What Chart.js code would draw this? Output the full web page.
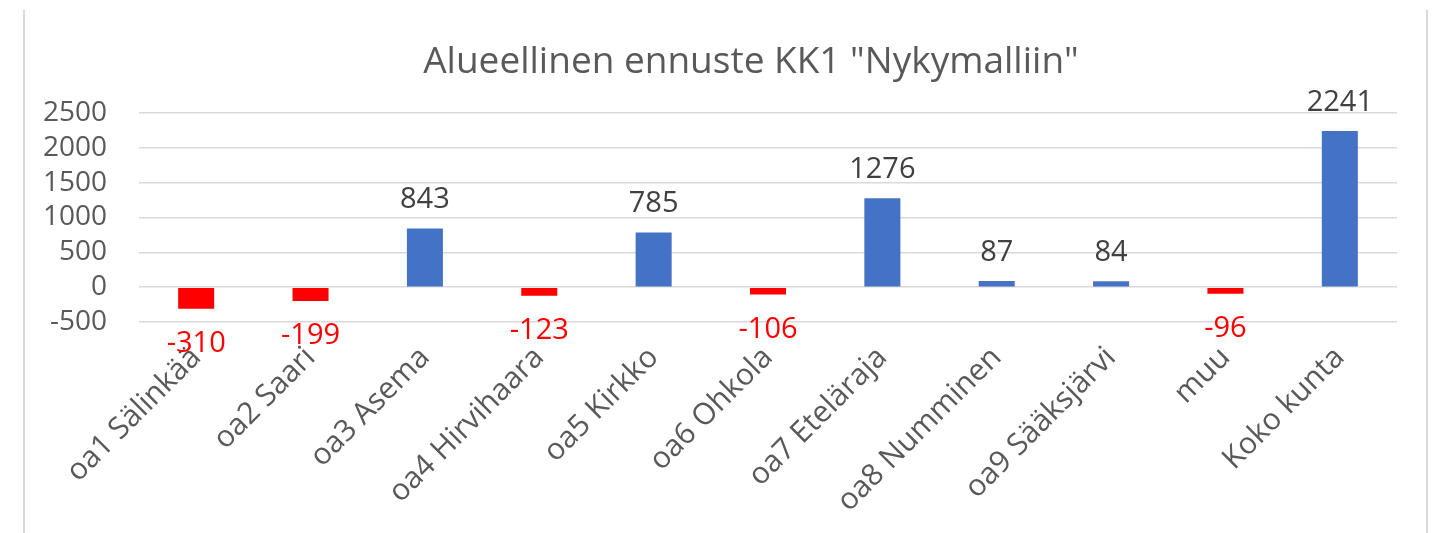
<!DOCTYPE html>
<html><head><meta charset="utf-8">
<script src="https://cdn.jsdelivr.net/npm/chart.js@4"></script>
<style>html,body{margin:0;padding:0;background:#fff;}#wrap{width:1438px;height:533px;}</style>
</head><body><div id="wrap"><canvas id="c" width="1438" height="533"></canvas></div>
<script>
const categories = ['oa1 Sälinkää','oa2 Saari','oa3 Asema','oa4 Hirvihaara','oa5 Kirkko','oa6 Ohkola','oa7 Eteläraja','oa8 Numminen','oa9 Sääksjärvi','muu','Koko kunta'];
const values = [-310, -199, 843, -123, 785, -106, 1276, 87, 84, -96, 2241];
const yTicks = [-500, 0, 500, 1000, 1500, 2000, 2500];
const titleText = 'Alueellinen ennuste KK1 "Nykymalliin"';

const POS = '#4472C4', NEG = '#FF0000';
const FONT = "'Open Sans', 'Noto Sans', sans-serif";

const framePlugin = {
  id: 'frame',
  beforeDraw(chart) {
    const ctx = chart.ctx;
    ctx.save();
    ctx.fillStyle = '#fff';
    ctx.fillRect(0, 0, chart.width, chart.height);
    ctx.strokeStyle = '#D9D9D9';
    ctx.lineWidth = 2;
    ctx.beginPath();
    ctx.moveTo(24, 10); ctx.lineTo(24, chart.height);
    ctx.moveTo(1427, 10); ctx.lineTo(1427, chart.height);
    ctx.stroke();
    ctx.restore();
  }
};

// shift the title box so that it is centred where the reference centres it
const titleShiftPlugin = {
  id: 'titleShift',
  afterLayout(chart) {
    if (chart.titleBlock) {
      chart.titleBlock.left = 105;
      chart.titleBlock.right = 1397;
    }
  }
};

const labelPlugin = {
  id: 'valueLabels',
  afterDatasetsDraw(chart) {
    const ctx = chart.ctx;
    const meta = chart.getDatasetMeta(0);
    ctx.save();
    ctx.font = '29px ' + FONT;
    ctx.textAlign = 'center';
    ctx.textBaseline = 'alphabetic';
    meta.data.forEach((bar, i) => {
      const v = values[i];
      if (v >= 0) {
        ctx.fillStyle = '#404040';
        ctx.fillText(String(v), bar.x, bar.y - 20);
      } else {
        ctx.fillStyle = NEG;
        ctx.fillText(String(v), bar.x, bar.y + 43);
      }
    });
    ctx.restore();
  }
};

new Chart(document.getElementById('c'), {
  type: 'bar',
  data: {
    labels: categories,
    datasets: [{
      data: values,
      backgroundColor: values.map(v => v >= 0 ? POS : NEG),
      borderWidth: 0,
      categoryPercentage: 1,
      barPercentage: 0.315
    }]
  },
  options: {
    responsive: false,
    animation: false,
    devicePixelRatio: 1,
    layout: { padding: { left: 30, right: 41, top: 10, bottom: 0 } },
    plugins: {
      legend: { display: false },
      tooltip: { enabled: false },
      title: {
        display: true,
        text: titleText,
        color: '#595959',
        font: { family: FONT, size: 37, weight: 'normal', lineHeight: 1.2 },
        padding: { top: 30, bottom: 28.6 }
      }
    },
    scales: {
      x: {
        grid: { display: false, drawTicks: false },
        border: { display: false },
        ticks: {
          autoSkip: false,
          minRotation: 45,
          maxRotation: 45,
          color: '#595959',
          padding: 18,
          font: { family: FONT, size: 30 }
        },
        afterFit(scale) { scale.height = 211; }
      },
      y: {
        min: -500,
        max: 2500,
        afterBuildTicks(scale) { scale.ticks = yTicks.map(v => ({ value: v })); },
        grid: { color: '#D9D9D9', lineWidth: 1.5, drawTicks: false },
        border: { display: false },
        ticks: {
          autoSkip: false,
          color: '#595959',
          padding: 32,
          font: { family: FONT, size: 28 },
          callback: (v) => String(v)
        },
        afterFit(scale) { scale.width = 109; }
      }
    }
  },
  plugins: [framePlugin, titleShiftPlugin, labelPlugin]
});
</script>
</body></html>
